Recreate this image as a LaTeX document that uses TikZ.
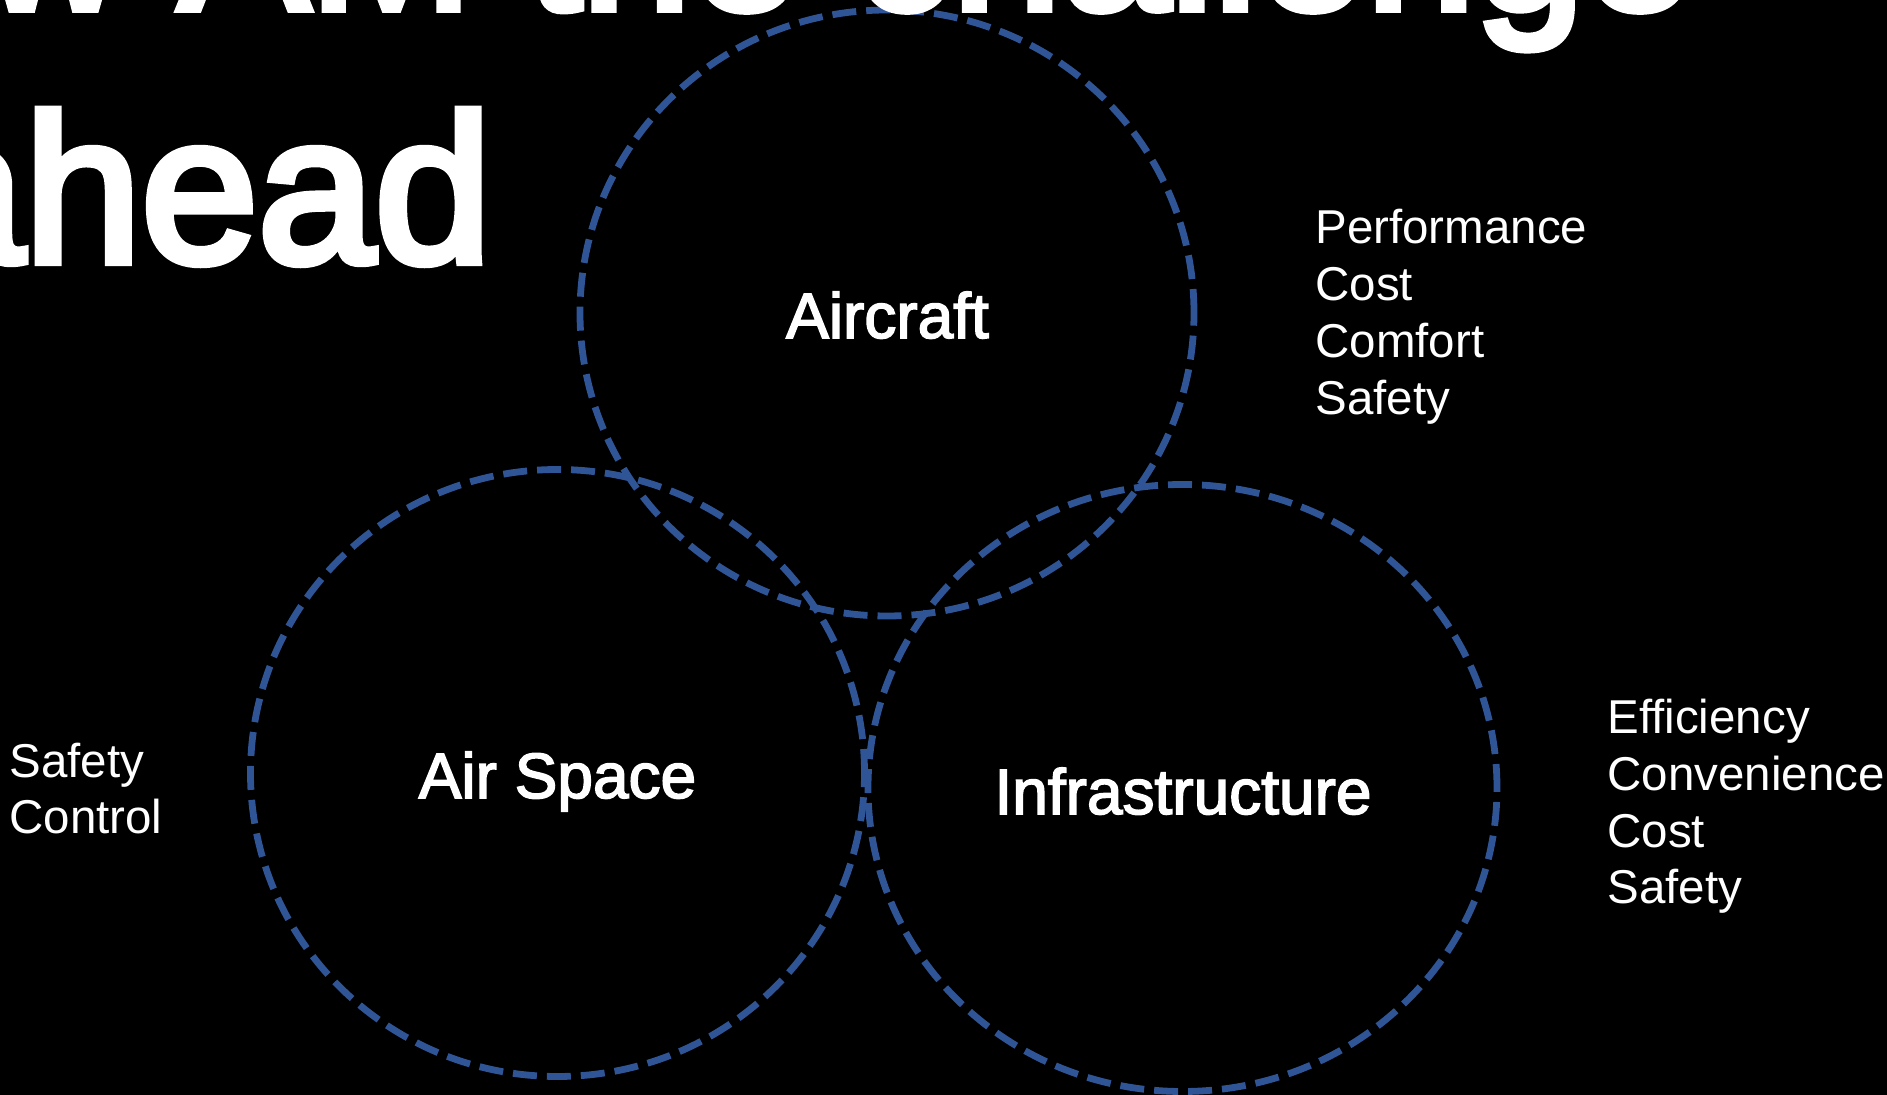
\documentclass[tikz,border=0pt]{standalone}
\usepackage{fontspec}
\setmainfont{Liberation Sans}
\newfontfamily\medfont[FakeBold=2.5]{Liberation Sans}
\newfontfamily\ttlfont[FakeBold=4]{Liberation Sans}
\usetikzlibrary{shapes.geometric}
\definecolor{vblue}{RGB}{47,85,151}
\begin{document}
\begin{tikzpicture}[x=0.5pt,y=-0.5pt,
  ring/.style={draw=vblue, line width=3.4pt, dash pattern=on 12pt off 5pt, ellipse, inner sep=0pt},
  lbl/.style={text=white, font=\medfont\fontsize{32}{38}\selectfont, inner sep=0pt, anchor=base},
  item/.style={text=white, font=\fontsize{23.75}{28.5}\selectfont, inner sep=0pt, anchor=base west},
  ttl/.style={text=white, inner sep=0pt, anchor=base east}]
\fill[black] (0,0) rectangle (1887,1095);
\useasboundingbox (0,0) rectangle (1887,1095);
\node[ring, minimum width=307pt, minimum height=303pt] (cA) at (887,313) {};
\node[ring, minimum width=307pt, minimum height=303.5pt] (cS) at (557.5,773) {};
\node[ring, minimum width=314.5pt, minimum height=303.5pt] (cI) at (1182.5,788) {};
\begin{scope}
\clip (0,0) rectangle (1887,1095);
\node[ttl, font=\ttlfont\fontsize{98}{110}\selectfont] (t1) at (1694,9) {Now AM the challenge};
\node[ttl, font=\ttlfont\fontsize{105}{118}\selectfont] (t2) at (492,262) {ahead};
\end{scope}
\node[lbl] (lA) at (887.5,338) {Aircraft};
\node[lbl] (lS) at (557.5,798) {Air Space};
\node[lbl] (lI) at (1183,814) {Infrastructure};
\node[item] (a1) at (1315,244) {Performance};
\node[item] (a2) at (1315,301) {Cost};
\node[item] (a3) at (1315,358) {Comfort};
\node[item] (a4) at (1315,415) {Safety};
\node[item] (i1) at (1607,734) {Efficiency};
\node[item] (i2) at (1607,791) {Convenience};
\node[item] (i3) at (1607,848) {Cost};
\node[item] (i4) at (1607,904) {Safety};
\node[item] (s1) at (9,778) {Safety};
\node[item] (s2) at (9,834) {Control};
\end{tikzpicture}
\end{document}
